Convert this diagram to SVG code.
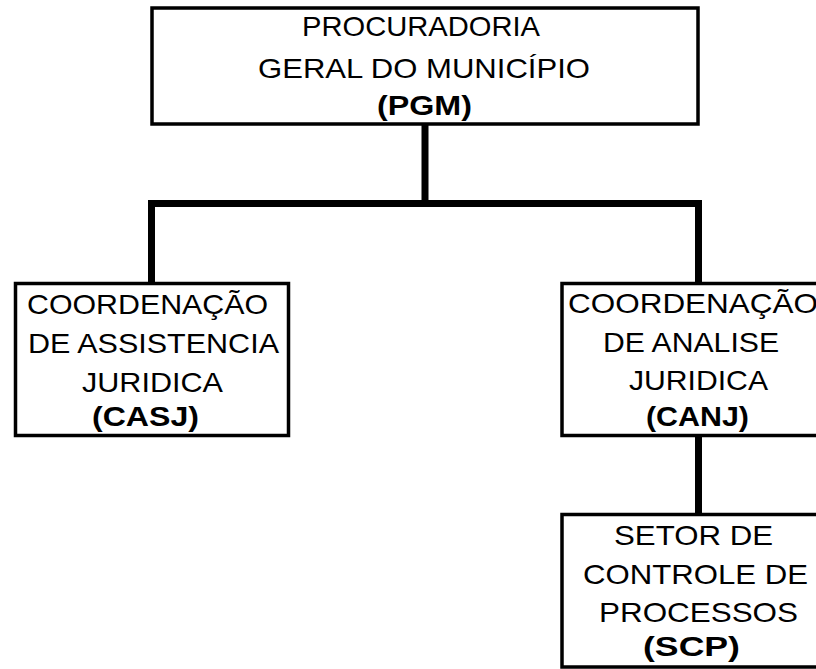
<svg xmlns="http://www.w3.org/2000/svg" width="816" height="669" viewBox="0 0 816 669">
<style>
.box{fill:#fff;stroke:#000;stroke-width:3.5}
.t{font-family:"Liberation Sans",Arial,sans-serif;font-size:28.5px;fill:#000}
.b{font-weight:bold;font-size:27.5px}
.c{fill:none;stroke:#000;stroke-width:7}
</style>
<rect width="816" height="669" fill="#fff"/>
<g id="connectors">
<path class="c" d="M425 124V203.5M151.5 203.5H698.5M151.5 200V284M698.5 200V284M698.5 436V515"/>
</g>
<g id="pgm">
<rect class="box" x="152" y="8" width="546" height="116"/>
<text class="t" x="302" y="36" textLength="238" lengthAdjust="spacingAndGlyphs">PROCURADORIA</text>
<text class="t" x="258" y="78" textLength="332" lengthAdjust="spacingAndGlyphs">GERAL DO MUNICÍPIO</text>
<text class="t b" x="377" y="115" textLength="95" lengthAdjust="spacingAndGlyphs">(PGM)</text>
</g>
<g id="casj">
<rect class="box" x="15.5" y="283.5" width="273" height="152"/>
<text class="t" x="27" y="314" textLength="241" lengthAdjust="spacingAndGlyphs">COORDENAÇÃO</text>
<text class="t" x="28" y="353" textLength="251" lengthAdjust="spacingAndGlyphs">DE ASSISTENCIA</text>
<text class="t" x="82" y="392" textLength="141" lengthAdjust="spacingAndGlyphs">JURIDICA</text>
<text class="t b" x="92" y="426" textLength="107" lengthAdjust="spacingAndGlyphs">(CASJ)</text>
</g>
<g id="canj">
<rect class="box" x="562" y="283.5" width="270" height="152"/>
<text class="t" x="568" y="313" textLength="250" lengthAdjust="spacingAndGlyphs">COORDENAÇÃO</text>
<text class="t" x="603" y="352" textLength="176" lengthAdjust="spacingAndGlyphs">DE ANALISE</text>
<text class="t" x="629" y="390" textLength="139" lengthAdjust="spacingAndGlyphs">JURIDICA</text>
<text class="t b" x="646" y="426" textLength="103" lengthAdjust="spacingAndGlyphs">(CANJ)</text>
</g>
<g id="scp">
<rect class="box" x="562" y="514.5" width="270" height="152.5"/>
<text class="t" x="614" y="545" textLength="159" lengthAdjust="spacingAndGlyphs">SETOR DE</text>
<text class="t" x="583" y="584" textLength="225" lengthAdjust="spacingAndGlyphs">CONTROLE DE</text>
<text class="t" x="599" y="622" textLength="199" lengthAdjust="spacingAndGlyphs">PROCESSOS</text>
<text class="t b" x="643" y="656" textLength="97" lengthAdjust="spacingAndGlyphs">(SCP)</text>
</g>
</svg>
